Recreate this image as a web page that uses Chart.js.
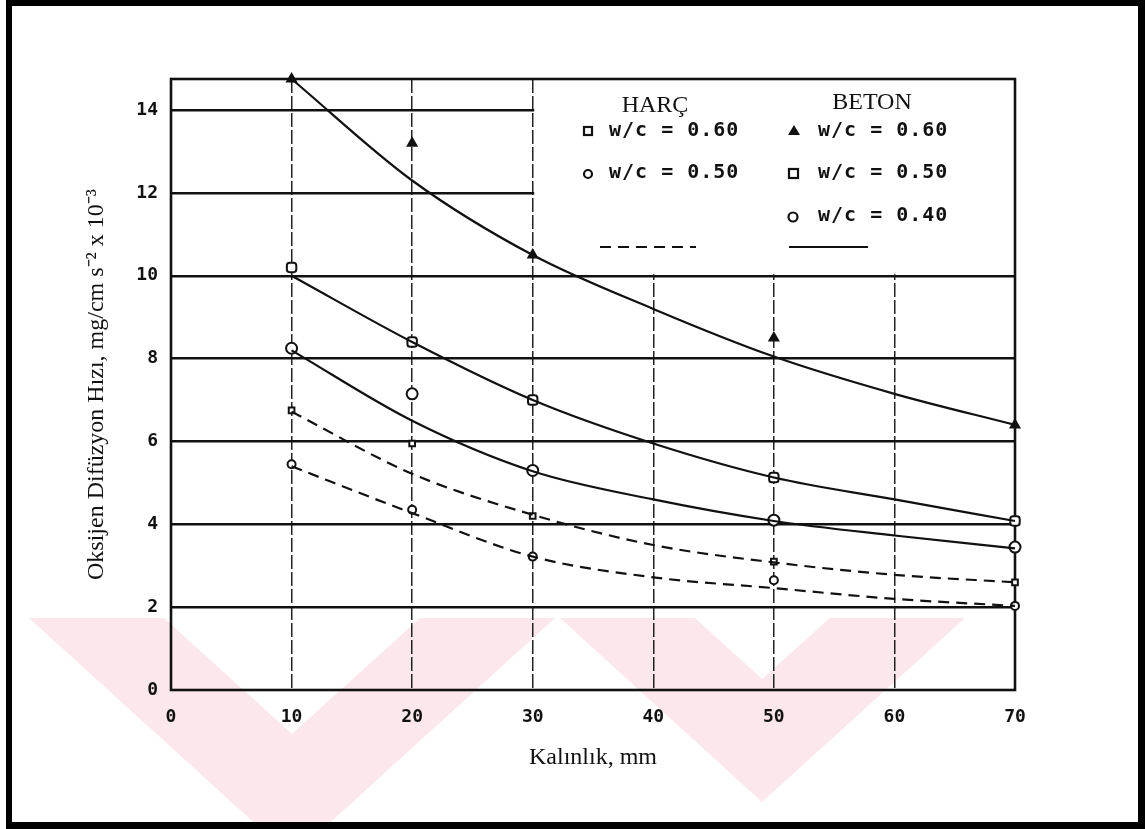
<!DOCTYPE html>
<html><head><meta charset="utf-8">
<script src="https://cdn.jsdelivr.net/npm/chart.js@4.4.1/dist/chart.umd.min.js"></script>
<style>html,body{margin:0;padding:0;background:#fff;overflow:hidden}</style>
</head><body>
<canvas id="c" width="1145" height="829"></canvas>
<script>
// ---------- data ----------
const thickness = [10, 20, 30, 40, 50, 60, 70];      // x where fitted curves are read (mm)
const measuredX = [10, 20, 30, 50, 70];              // measured thicknesses (mm)
const xTicks = [0, 10, 20, 30, 40, 50, 60, 70];
const yTicks = [0, 2, 4, 6, 8, 10, 12, 14];

// fitted curves
const betonFit060 = [14.75, 12.3, 10.5, 9.2, 8.05, 7.15, 6.4];
const betonFit050 = [10.0, 8.4, 7.0, 5.95, 5.13, 4.6, 4.08];
const betonFit040 = [8.2, 6.5, 5.28, 4.6, 4.08, 3.73, 3.42];
const harcFit060  = [6.72, 5.22, 4.23, 3.5, 3.08, 2.78, 2.6];
const harcFit050  = [5.4, 4.27, 3.22, 2.72, 2.46, 2.2, 2.03];

// measured points
const betonPts060 = [14.75, 13.2, 10.5, 8.5, 6.4];
const betonPts050 = [10.2, 8.4, 7.0, 5.13, 4.08];
const betonPts040 = [8.25, 7.15, 5.3, 4.1, 3.45];
const harcPts060  = [6.75, 5.95, 4.2, 3.1, 2.6];
const harcPts050  = [5.45, 4.35, 3.22, 2.65, 2.03];

const groupLabels = ['HARÇ', 'BETON'];
const harcLabels  = ['w/c = 0.60', 'w/c = 0.50'];
const betonLabels = ['w/c = 0.60', 'w/c = 0.50', 'w/c = 0.40'];
const xTitle = 'Kalınlık, mm';
const yTitle = 'Oksijen Difüzyon Hızı, mg/cm s\u207B\u00B2 x 10\u207B\u00B3';

// ---------- helpers ----------
const INK = '#111';
const toXY = (xs, ys) => xs.map((x, i) => ({x: x, y: ys[i]}));
const curve = (ys, dashed) => ({
  data: toXY(thickness, ys), showLine: true, pointRadius: 0,
  borderColor: INK, borderWidth: 2.2, cubicInterpolationMode: 'monotone',
  borderDash: dashed ? [11, 7] : [], clip: 4
});
const pts = (ys, style, r, filled) => ({
  data: toXY(measuredX, ys), showLine: false, pointStyle: style, pointRadius: r,
  pointBorderWidth: 2, pointBorderColor: INK,
  pointBackgroundColor: filled ? INK : '#fff', clip: 8
});

const decor = {
  id: 'decor',
  beforeDraw(chart) {
    const ctx = chart.ctx;
    ctx.save();
    ctx.fillStyle = '#fff';
    ctx.fillRect(0, 0, chart.width, chart.height);
    // faint watermark chevrons
    ctx.fillStyle = '#fce8ec';
    const shapes = [
      [[29,618],[164,618],[292,734],[420,618],[555,618],[323,829],[261,829]],
      [[560,618],[695,618],[762,679],[830,618],[965,618],[762,802]]
    ];
    shapes.forEach(b => { ctx.beginPath(); b.forEach((p, i) => i ? ctx.lineTo(p[0], p[1]) : ctx.moveTo(p[0], p[1])); ctx.closePath(); ctx.fill(); });
    ctx.restore();
  },
  beforeDatasetsDraw(chart) {
    const ctx = chart.ctx, a = chart.chartArea;
    const xs = chart.scales.x, ys = chart.scales.y;
    ctx.save();
    // legend box (covers grid in upper right)
    const bx = xs.getPixelForValue(30) + 1.5, by = ys.getPixelForValue(10) - 1.5;
    ctx.fillStyle = '#fff';
    ctx.fillRect(bx, a.top, a.right - bx, by - a.top);
    ctx.fillStyle = INK; ctx.strokeStyle = INK;
    ctx.textBaseline = 'alphabetic'; ctx.textAlign = 'center';
    ctx.font = '24px "Liberation Serif"';
    ctx.fillText(groupLabels[0], 655, 112);
    ctx.fillText(groupLabels[1], 872, 109);
    ctx.font = 'bold 20px "DejaVu Sans Mono"';
    ctx.textAlign = 'left'; ctx.textBaseline = 'middle';
    try { ctx.letterSpacing = '1px'; } catch (e) {}
    const rows = [131, 173, 216];
    harcLabels.forEach((t, i) => ctx.fillText(t, 609, rows[i]));
    betonLabels.forEach((t, i) => ctx.fillText(t, 818, rows[i]));
    try { ctx.letterSpacing = '0px'; } catch (e) {}
    ctx.lineWidth = 2.2;
    // harç markers
    ctx.strokeRect(584, rows[0] - 4, 8, 8);
    ctx.beginPath(); ctx.arc(588, rows[1] + 1, 4, 0, Math.PI * 2); ctx.stroke();
    // beton markers
    ctx.beginPath(); ctx.moveTo(794, rows[0] - 6); ctx.lineTo(800, rows[0] + 4); ctx.lineTo(788, rows[0] + 4); ctx.closePath(); ctx.fill();
    ctx.strokeRect(789, rows[1] - 4, 9, 9);
    ctx.beginPath(); ctx.arc(793, rows[2] + 1, 4.5, 0, Math.PI * 2); ctx.stroke();
    // line samples
    ctx.lineWidth = 2.2;
    ctx.setLineDash([11, 7]);
    ctx.beginPath(); ctx.moveTo(600, 247); ctx.lineTo(696, 247); ctx.stroke();
    ctx.setLineDash([]);
    ctx.beginPath(); ctx.moveTo(789, 247); ctx.lineTo(868, 247); ctx.stroke();
    // plot frame
    ctx.lineWidth = 2.6;
    ctx.strokeRect(a.left, a.top, a.right - a.left, a.bottom - a.top);
    ctx.restore();
  },
  afterDraw(chart) {
    const ctx = chart.ctx;
    ctx.save();
    ctx.fillStyle = '#000';
    ctx.fillRect(6, 0, 1139, 6);
    ctx.fillRect(6, 0, 6, 829);
    ctx.fillRect(1138, 0, 7, 829);
    ctx.fillRect(6, 822, 1139, 7);
    ctx.restore();
  }
};

new Chart(document.getElementById('c'), {
  type: 'scatter',
  data: {
    datasets: [
      curve(betonFit060, false), curve(betonFit050, false), curve(betonFit040, false),
      curve(harcFit060, true), curve(harcFit050, true),
      pts(betonPts060, 'triangle', 5, true),
      pts(betonPts050, 'rectRounded', 5.5, false),
      pts(betonPts040, 'circle', 5.5, false),
      pts(harcPts060, 'rect', 4, false),
      pts(harcPts050, 'circle', 4, false)
    ]
  },
  options: {
    responsive: false, animation: false, devicePixelRatio: 1,
    layout: {padding: {top: 79, right: 130, left: 0, bottom: 0}},
    plugins: {legend: {display: false}, tooltip: {enabled: false}},
    scales: {
      x: {
        type: 'linear', min: 0, max: 70,
        afterBuildTicks: s => { s.ticks = xTicks.map(v => ({value: v})); },
        afterFit: s => { s.height = 139; },
        grid: {drawTicks: false, lineWidth: 1.5,
          color: c => (c.tick && (c.tick.value === 0 || c.tick.value === 70)) ? 'rgba(0,0,0,0)' : '#222'},
        border: {display: false, dash: [14, 3]},
        ticks: {color: INK, padding: 17, font: {family: 'DejaVu Sans Mono', size: 18, weight: 'bold'}},
        title: {display: true, text: xTitle, color: INK,
          font: {family: 'Liberation Serif', size: 24}, padding: {top: 0, bottom: 57}}
      },
      y: {
        min: 0, max: 14.75,
        afterBuildTicks: s => { s.ticks = yTicks.map(v => ({value: v})); },
        afterFit: s => { s.width = 171; },
        grid: {drawTicks: false, lineWidth: 2.4,
          color: c => (c.tick && c.tick.value === 0) ? 'rgba(0,0,0,0)' : INK},
        border: {display: false},
        ticks: {color: INK, padding: 13, font: {family: 'DejaVu Sans Mono', size: 18, weight: 'bold'}},
        title: {display: true, text: yTitle, color: INK,
          font: {family: 'Liberation Serif', size: 24}, padding: {top: 82, bottom: 0}}
      }
    }
  },
  plugins: [decor]
});
</script>
</body></html>
